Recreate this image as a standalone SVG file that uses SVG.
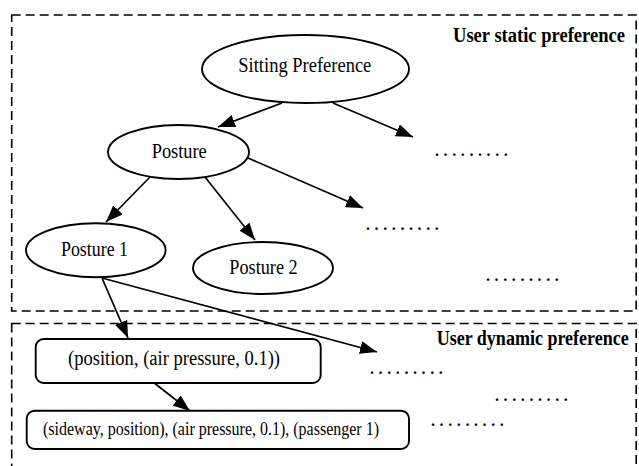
<svg xmlns="http://www.w3.org/2000/svg" width="639" height="466" viewBox="0 0 639 466">
<style>
.bg{fill:#fff}
.region{fill:none;stroke:#000;stroke-width:1.6;stroke-dasharray:9,5}
.node{fill:#fff;stroke:#000;stroke-width:1.9}
.edge{fill:none;stroke:#000;stroke-width:1.7;marker-end:url(#ah)}
.lbl{font-family:"Liberation Serif","Times New Roman",serif;font-size:20px;fill:#000}
.small{font-size:18px}
.title{font-family:"Liberation Serif","Times New Roman",serif;font-size:20px;font-weight:bold;fill:#000}
.dots{font-family:"Liberation Serif","Times New Roman",serif;font-size:16px;font-weight:bold;letter-spacing:4.6px;fill:#000}
</style>
<defs>
<marker id="ah" viewBox="0 0 17 13" refX="17" refY="6.5" markerWidth="17" markerHeight="13" markerUnits="userSpaceOnUse" orient="auto">
<path d="M0,0 L17,6.5 L0,13 Z" fill="#000"/>
</marker>
</defs>
<rect class="bg" x="0" y="0" width="639" height="466"/>
<g id="static-region">
<rect class="region" x="11.7" y="15" width="624.5" height="296"/>
<text class="title" x="453" y="41.7" textLength="172" lengthAdjust="spacingAndGlyphs">User static preference</text>
</g>
<g id="dynamic-region">
<rect class="region" x="11.7" y="323.5" width="624.5" height="150"/>
<text class="title" x="436.7" y="345" textLength="192" lengthAdjust="spacingAndGlyphs">User dynamic preference</text>
</g>
<g id="connectors">
<line class="edge" x1="282" y1="103" x2="218" y2="127"/>
<line class="edge" x1="333" y1="103" x2="413" y2="137"/>
<line class="edge" x1="150" y1="177" x2="106" y2="222"/>
<line class="edge" x1="205" y1="177" x2="255" y2="240"/>
<line class="edge" x1="248" y1="158" x2="363" y2="208"/>
<line class="edge" x1="102" y1="278" x2="128" y2="338"/>
<line class="edge" x1="102" y1="278" x2="377" y2="352"/>
<line class="edge" x1="153" y1="382" x2="190" y2="411"/>
</g>
<g id="sitting-preference">
<ellipse class="node" cx="305.5" cy="69" rx="103.5" ry="34"/>
<text class="lbl" x="238.3" y="71.7" textLength="133" lengthAdjust="spacingAndGlyphs">Sitting Preference</text>
</g>
<g id="posture">
<ellipse class="node" cx="178.5" cy="152" rx="70.5" ry="27"/>
<text class="lbl" x="151.7" y="158.3" textLength="55" lengthAdjust="spacingAndGlyphs">Posture</text>
</g>
<g id="posture-1">
<ellipse class="node" cx="95.8" cy="250.3" rx="69.8" ry="27"/>
<text class="lbl" x="61" y="256" textLength="67" lengthAdjust="spacingAndGlyphs">Posture 1</text>
</g>
<g id="posture-2">
<ellipse class="node" cx="263" cy="268" rx="70" ry="26"/>
<text class="lbl" x="229.3" y="274.3" textLength="68.4" lengthAdjust="spacingAndGlyphs">Posture 2</text>
</g>
<g id="position-node">
<rect class="node" x="35.7" y="339" width="285" height="44" rx="8"/>
<text class="lbl" x="68" y="365" textLength="212" lengthAdjust="spacingAndGlyphs">(position, (air pressure, 0.1))</text>
</g>
<g id="sideway-node">
<rect class="node" x="26.7" y="410.7" width="382.3" height="38.3" rx="8"/>
<text class="lbl small" x="43" y="435" textLength="336" lengthAdjust="spacingAndGlyphs">(sideway, position), (air pressure, 0.1), (passenger 1)</text>
</g>
<g id="ellipses-text">
<text class="dots" x="435" y="155.5">.........</text>
<text class="dots" x="366" y="230">.........</text>
<text class="dots" x="486" y="280.5">.........</text>
<text class="dots" x="370" y="373.5">.........</text>
<text class="dots" x="495" y="400.5">.........</text>
<text class="dots" x="431" y="425.5">.........</text>
</g>
</svg>
